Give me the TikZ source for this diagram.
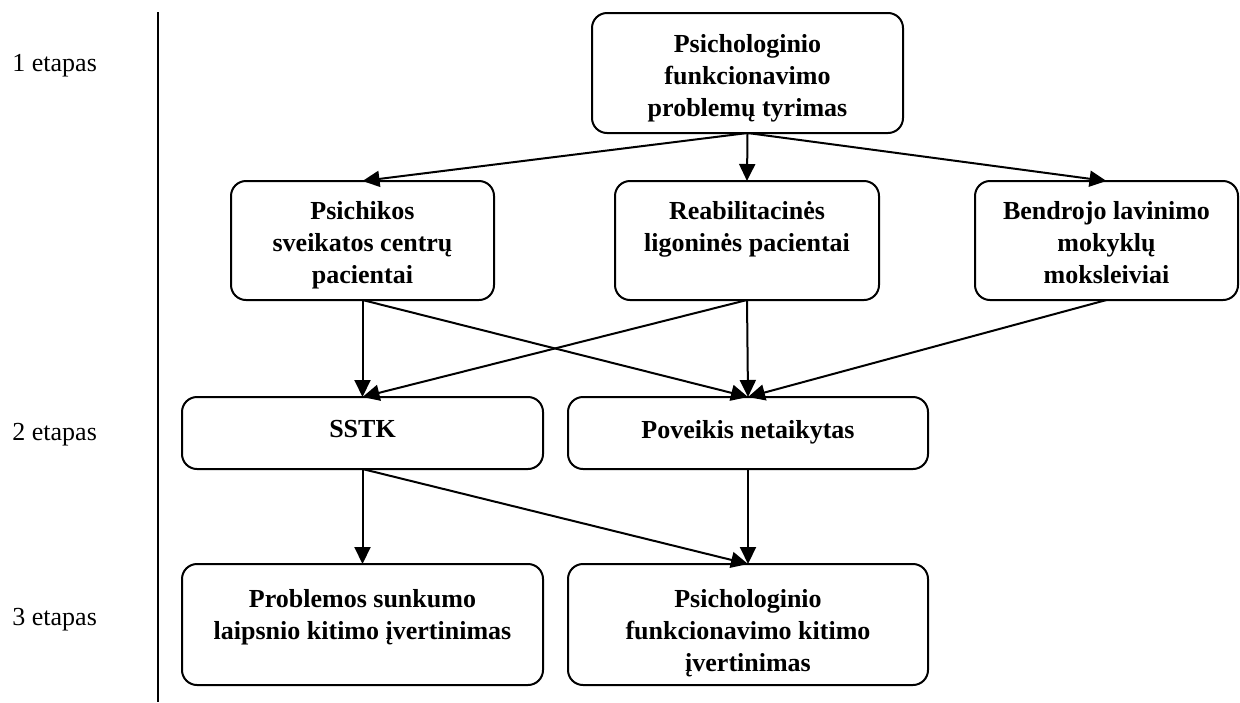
\documentclass[tikz,border=0pt]{standalone}
\usepackage{fontspec}
\setmainfont{Liberation Serif}
\usetikzlibrary{arrows.meta}
\newcommand{\boxtext}[4]{\begin{minipage}[c][#2][t]{#1}\centering\vspace*{#3}\bfseries #4\end{minipage}}
\tikzset{
  stepbox/.style={draw, line width=1pt, rounded corners=7.5pt, inner sep=0pt, outer sep=0pt,
    font=\fontsize{13}{16}\selectfont},
  arr/.style={-{Triangle[length=8.5pt,width=8pt]}, line width=1pt},
  stage/.style={anchor=west, inner sep=0pt, font=\fontsize{13}{16}\selectfont}
}
\begin{document}
\begin{tikzpicture}[x=0.5pt,y=-0.5pt]
\useasboundingbox (0,0) rectangle (1240,702);
% stage labels and divider
\node[stage] (s1) at (12,66) {1 etapas};
\node[stage] (s2) at (12,435) {2 etapas};
\node[stage] (s3) at (12,620) {3 etapas};
\coordinate (vt) at (158,12);
\coordinate (vb) at (158,702);
\draw[line width=1pt] (vt) -- (vb);
% boxes
\node[stepbox] (top) at (747.5,73) {\boxtext{155.5pt}{60pt}{10.5pt}{Psichologinio\\ funkcionavimo\\ problemų tyrimas}};
\node[stepbox] (psy) at (362.5,240.5) {\boxtext{131.5pt}{59.5pt}{10pt}{Psichikos\\ sveikatos centrų\\ pacientai}};
\node[stepbox] (reab) at (747,240.5) {\boxtext{132pt}{59.5pt}{10pt}{Reabilitacinės\\ ligoninės pacientai}};
\node[stepbox] (bend) at (1106.5,240.5) {\boxtext{131.5pt}{59.5pt}{10pt}{Bendrojo lavinimo\\ mokyklų\\ moksleiviai}};
\node[stepbox] (sstk) at (362.5,433) {\boxtext{180.5pt}{36pt}{11.5pt}{SSTK}};
\node[stepbox] (pov) at (748,433) {\boxtext{180pt}{36pt}{11.5pt}{Poveikis netaikytas}};
\node[stepbox] (prob) at (362.5,624.5) {\boxtext{180.5pt}{60.5pt}{12.5pt}{Problemos sunkumo\\ laipsnio kitimo įvertinimas}};
\node[stepbox] (psf) at (748,624.5) {\boxtext{180pt}{60.5pt}{12.5pt}{Psichologinio\\ funkcionavimo kitimo\\ įvertinimas}};
% connectors
\draw[arr] (top.south) -- (psy.north);
\draw[arr] (top.south) -- (reab.north);
\draw[arr] (top.south) -- (bend.north);
\draw[arr] (psy.south) -- (sstk.north);
\draw[arr] (psy.south) -- (pov.north);
\draw[arr] (reab.south) -- (sstk.north);
\draw[arr] (reab.south) -- (pov.north);
\draw[arr] (bend.south) -- (pov.north);
\draw[arr] (sstk.south) -- (prob.north);
\draw[arr] (sstk.south) -- (psf.north);
\draw[arr] (pov.south) -- (psf.north);
\end{tikzpicture}
\end{document}
